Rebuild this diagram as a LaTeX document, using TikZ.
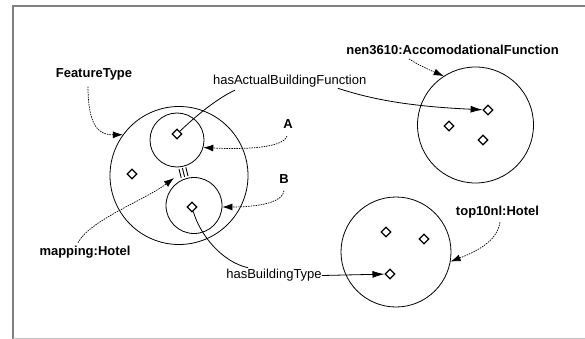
\documentclass[tikz,border=0pt]{standalone}
\usepackage{fontspec}
\setmainfont{Liberation Sans}
\usetikzlibrary{arrows.meta,shapes.geometric}
\begin{document}
\begin{tikzpicture}[x=1pt,y=-1pt,
  lbl/.style={inner sep=0pt,font=\fontsize{13}{15}\selectfont},
  blbl/.style={inner sep=0pt,font=\fontsize{13}{15}\selectfont\bfseries},
  set/.style={circle,draw,line width=0.8pt,inner sep=0pt},
  inst/.style={diamond,draw,line width=1.3pt,fill=white,inner sep=0pt,minimum size=10pt},
  link/.style={line width=0.8pt,-{Latex[length=12pt,width=7pt]}},
  plain/.style={line width=0.8pt},
  hint/.style={line width=0.7pt,dash pattern=on 1.5pt off 1pt,-{Latex[length=10pt,width=7pt]}},
  bar/.style={line width=0.9pt}
]
\useasboundingbox (0,0) rectangle (585,339);
% frame
\draw[black!50,line width=2pt] (13,339) -- (13,6) -- (586,6);
\draw[black!25,line width=0.8pt] (13,338.5) -- (586,338.5);

% sets
\node[set,minimum size=138pt] (big) at (179,175.5) {};
\node[set,minimum size=54pt] (cA) at (177,140) {};
\node[set,minimum size=56pt] (cB) at (194,205.5) {};
\node[set,minimum size=116pt] (nen) at (475.5,125) {};
\node[set,minimum size=110pt] (top) at (396,252) {};

% instances
\node[inst] (dA) at (177,134) {};
\node[inst] (dB) at (192,207) {};
\node[inst] (d0) at (132,174) {};
\node[inst] (n1) at (488,110) {};
\node[inst] (n2) at (449,126) {};
\node[inst] (n3) at (483,140) {};
\node[inst] (t1) at (386,232) {};
\node[inst] (t2) at (424,239) {};
\node[inst] (t3) at (390,274) {};

% labels
\node[blbl] (ft) at (94,74.5) {FeatureType};
\node[lbl] (ha) at (289.7,81) {hasActualBuildingFunction};
\node[blbl] (nl) at (452.5,50) {nen3610:AccomodationalFunction};
\node[blbl] (lA) at (288,124.5) {A};
\node[blbl] (lB) at (284,179) {B};
\node[blbl] (mh) at (85,252) {mapping:Hotel};
\node[lbl] (hb) at (274,275.5) {hasBuildingType};
\node[blbl] (tl) at (497.5,212.5) {top10nl:Hotel};

% equivalence mark
\coordinate (mapEnd) at (174,178);
\draw[bar] (179.0,169.0) -- (181.2,177.7);
\draw[bar] (182.4,168.2) -- (184.6,176.9);
\draw[bar] (185.8,167.3) -- (188.0,176.0);

% property connectors
\draw[plain] (dA) .. controls (200,112) and (220,97) .. ([xshift=22pt,yshift=-3pt]ha.south west);
\draw[link] ([xshift=-28.7pt,yshift=-1pt]ha.south east) .. controls (365,97) and (400,106) .. (n1);
\draw[plain] (dB) .. controls (200,235) and (222,262) .. ([xshift=22pt,yshift=1.5pt]hb.north west);
\draw[link] (hb.east) -- (t3);

% dashed hints
\draw[hint] ([xshift=-6pt,yshift=-6pt]ft.south) .. controls (88,128) and (100,135) .. (big.144);
\draw[hint] ([xshift=-1pt,yshift=-7pt]lA.south) .. controls (284,146) and (255,150) .. (cA.-16);
\draw[hint] ([yshift=-7pt]lB.south) .. controls (283,202) and (260,207) .. (cB.-3);
\draw[hint] ([xshift=-7pt,yshift=3pt]mh.north) .. controls (90,220) and (145,200) .. (mapEnd);
\draw[hint] ([xshift=-43.5pt,yshift=-4pt]nl.south) .. controls (420,66) and (432,71) .. (nen.123);
\draw[hint] ([xshift=2.5pt,yshift=-3.5pt]tl.south) .. controls (497,242) and (475,252) .. (top.-10);
\end{tikzpicture}
\end{document}
